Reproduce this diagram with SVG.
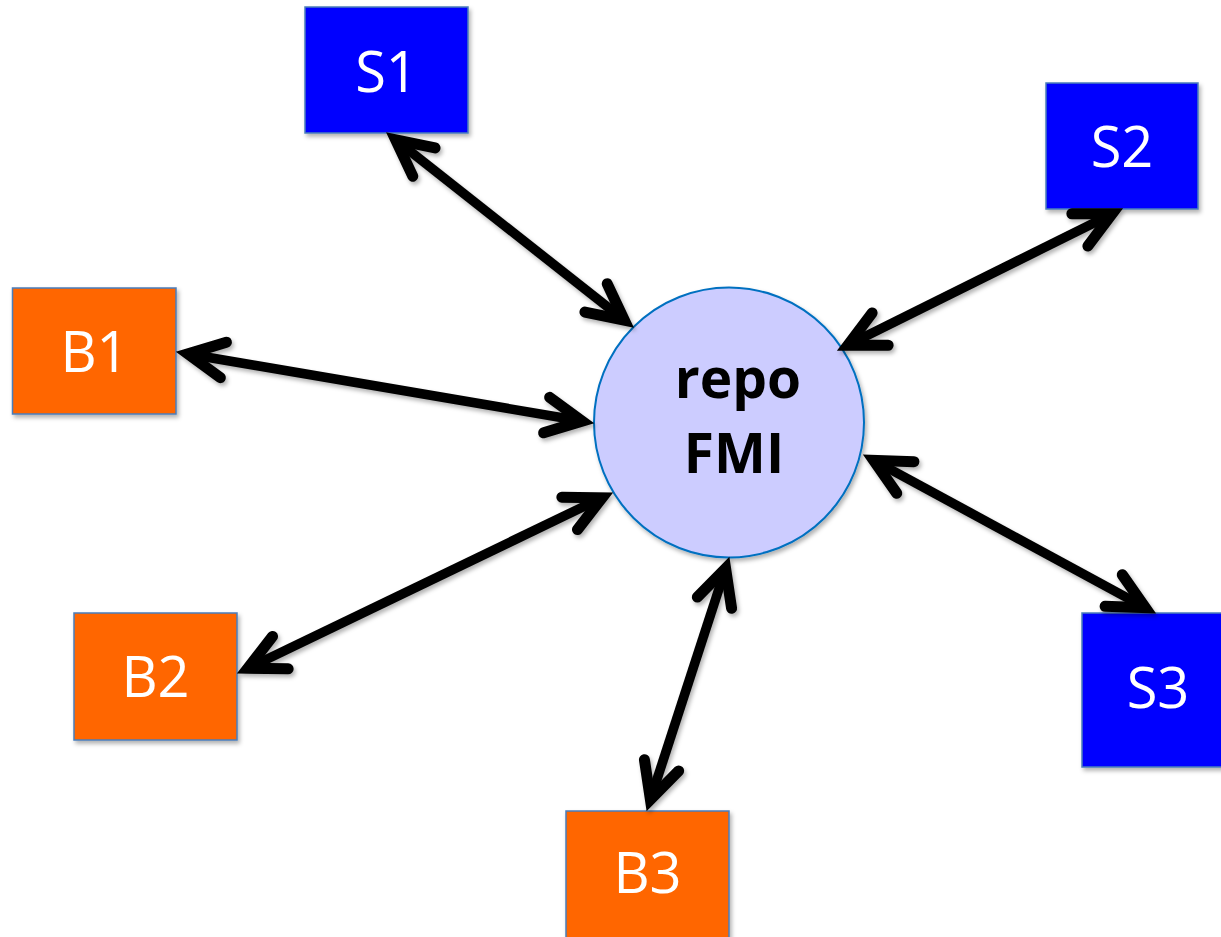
<svg xmlns="http://www.w3.org/2000/svg" width="1221" height="937" viewBox="0 0 1221 937">
<defs>
<filter id="sh" x="-20%" y="-20%" width="140%" height="140%">
<feDropShadow dx="2" dy="3" stdDeviation="2" flood-color="#000" flood-opacity="0.3"/>
</filter>
<marker id="ah" viewBox="-50 -30 70 60" markerWidth="70" markerHeight="60" markerUnits="userSpaceOnUse" refX="1" refY="0" orient="auto-start-reverse">
<path d="M-36,-18 L0,0 L-36,18" fill="none" stroke="#000" stroke-width="11" stroke-linecap="round" stroke-linejoin="miter"/>
</marker>
<style>
.s{fill:#0000ff;stroke:#4a7ebb;stroke-width:1.5}
.b{fill:#ff6600;stroke:#4a7ebb;stroke-width:1.5}
.lbl{font-family:"Open Sans","Noto Sans",sans-serif;font-size:56px;fill:#fff;text-anchor:middle}
.bold{font-family:"Open Sans","Noto Sans",sans-serif;font-size:55px;font-weight:bold;fill:#000;text-anchor:middle}
.c{fill:none;stroke:#000;stroke-width:9.5;marker-start:url(#ah);marker-end:url(#ah)}
</style>
</defs>
<rect width="1221" height="937" fill="#fff"/>
<g id="S1" filter="url(#sh)"><rect class="s" x="305" y="7" width="163" height="126"/><text class="lbl" x="386.5" y="92">S1</text></g>
<g id="S2" filter="url(#sh)"><rect class="s" x="1046" y="83" width="152" height="126"/><text class="lbl" x="1122" y="167">S2</text></g>
<g id="S3" filter="url(#sh)"><rect class="s" x="1082" y="613" width="152" height="154"/><text class="lbl" x="1158" y="708">S3</text></g>
<g id="B1" filter="url(#sh)"><rect class="b" x="12.5" y="288" width="163.5" height="126"/><text class="lbl" x="94.5" y="372">B1</text></g>
<g id="B2" filter="url(#sh)"><rect class="b" x="74" y="613" width="163" height="127"/><text class="lbl" x="155.5" y="697">B2</text></g>
<g id="B3" filter="url(#sh)"><rect class="b" x="566" y="811" width="163" height="140"/><text class="lbl" x="647.5" y="893">B3</text></g>
<g id="repo" filter="url(#sh)"><circle cx="729" cy="422.5" r="135" fill="#ccccff" stroke="#0070c0" stroke-width="2"/><text class="bold" x="738" y="398">repo</text><text class="bold" x="734" y="473">FMI</text></g>
<g id="connectors" filter="url(#sh)">
<line class="c" x1="394.9" y1="139.2" x2="625.1" y2="320.8"/>
<line class="c" x1="1113.0" y1="213.4" x2="847.0" y2="345.6"/>
<line class="c" x1="186.9" y1="353.7" x2="583.1" y2="421.3"/>
<line class="c" x1="247.0" y1="668.7" x2="603.0" y2="497.3"/>
<line class="c" x1="650.1" y1="800.5" x2="725.9" y2="567.5"/>
<line class="c" x1="1146.2" y1="608.2" x2="872.8" y2="459.8"/>
</g>
</svg>
